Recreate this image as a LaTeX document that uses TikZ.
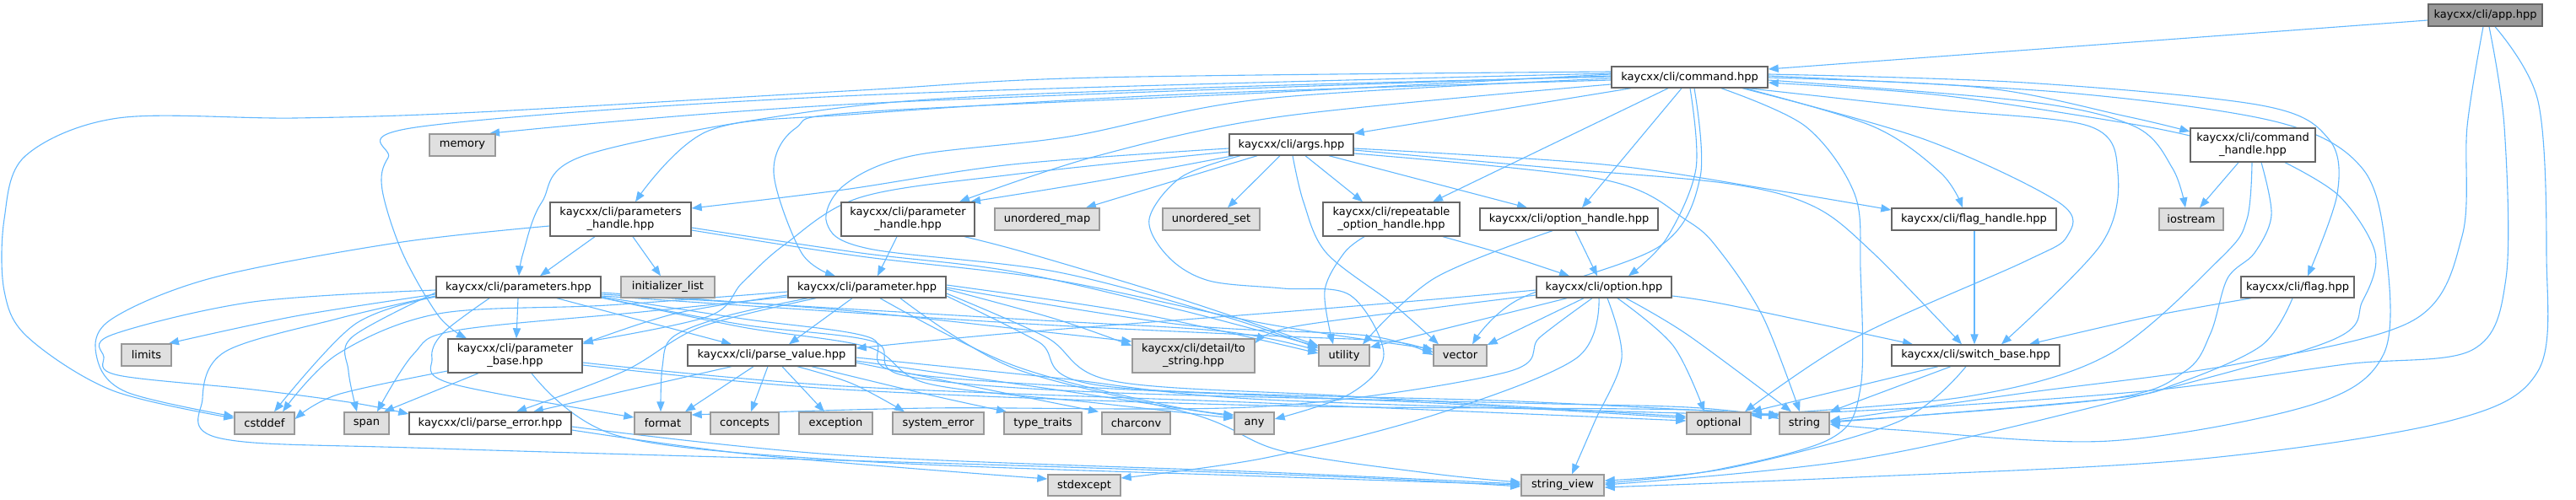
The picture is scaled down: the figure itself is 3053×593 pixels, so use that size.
\documentclass[tikz,border=0pt]{standalone}
\usepackage{fontspec}
\setmainfont{DejaVu Sans}
\usetikzlibrary{arrows.meta}
\definecolor{edgec}{HTML}{63B8FF}
\definecolor{bordA}{HTML}{666666}
\definecolor{bordB}{HTML}{999999}
\definecolor{fillB}{HTML}{E0E0E0}
\definecolor{fillR}{HTML}{999999}
\pgfdeclarelayer{edgelayer}
\pgfsetlayers{edgelayer,main}
\tikzset{
  boxbase/.style={rectangle, inner sep=0pt, align=center, line width=0.7pt, font=\fontsize{6.5pt}{7.5pt}\selectfont},
  hdr/.style={boxbase, draw=bordA, fill=white},
  ext/.style={boxbase, draw=bordB, fill=fillB},
  root/.style={boxbase, draw=bordA, fill=fillR},
  edge/.style={draw=edgec, line width=0.55pt, -{Triangle[length=6pt,width=4.6pt]}}
}
\newcommand{\nd}[7]{\node[#1, minimum width={(#5-#3)*0.5pt}, minimum height={(#6-#4)*0.5pt}] (#2) at ({(#3+#5)/2},{(#4+#6)/2}) {#7};}
\newcommand{\ed}[1]{\draw[edge] plot[smooth, tension=0.55] coordinates {#1};}
\begin{document}
\begin{tikzpicture}[x=0.5pt,y=-0.5pt]
\useasboundingbox (0,0) rectangle (3053,593);
% nodes
\nd{root}{app}{2878}{5}{3013}{31}{kaycxx/cli/app.hpp}
\nd{hdr}{cmd}{1910}{79}{2095}{104}{kaycxx/cli/command.hpp}
\nd{hdr}{ch}{2596}{152}{2744}{192}{kaycxx/cli/command\\\_handle.hpp}
\nd{ext}{ios}{2559}{247}{2635}{273}{iostream}
\nd{ext}{mem}{509}{159}{587}{185}{memory}
\nd{hdr}{psh}{652}{240}{819}{280}{kaycxx/cli/parameters\\\_handle.hpp}
\nd{hdr}{args}{1457}{159}{1604}{184}{kaycxx/cli/args.hpp}
\nd{hdr}{pah}{997}{240}{1155}{280}{kaycxx/cli/parameter\\\_handle.hpp}
\nd{ext}{umap}{1179}{247}{1303}{273}{unordered\_map}
\nd{ext}{uset}{1378}{247}{1493}{273}{unordered\_set}
\nd{hdr}{roh}{1568}{240}{1730}{280}{kaycxx/cli/repeatable\\\_option\_handle.hpp}
\nd{hdr}{oh}{1754}{247}{1965}{273}{kaycxx/cli/option\_handle.hpp}
\nd{hdr}{fh}{2242}{247}{2437}{273}{kaycxx/cli/flag\_handle.hpp}
\nd{ext}{lim}{144}{408}{203}{434}{limits}
\nd{ext}{cst}{278}{489}{349}{515}{cstddef}
\nd{ext}{span}{408}{489}{461}{515}{span}
\nd{hdr}{perr}{485}{489}{677}{515}{kaycxx/cli/parse\_error.hpp}
\nd{hdr}{ps}{517}{328}{712}{353}{kaycxx/cli/parameters.hpp}
\nd{ext}{il}{736}{328}{847}{353}{initializer\_list}
\nd{hdr}{pa}{934}{328}{1121}{353}{kaycxx/cli/parameter.hpp}
\nd{hdr}{pb}{531}{402}{690}{442}{kaycxx/cli/parameter\\\_base.hpp}
\nd{hdr}{pv}{815}{409}{1014}{434}{kaycxx/cli/parse\_value.hpp}
\nd{ext}{fmt}{752}{489}{819}{515}{format}
\nd{ext}{con}{842}{489}{923}{515}{concepts}
\nd{ext}{exc}{947}{489}{1034}{515}{exception}
\nd{ext}{syse}{1058}{489}{1166}{515}{system\_error}
\nd{ext}{tt}{1190}{489}{1282}{515}{type\_traits}
\nd{ext}{cc}{1306}{489}{1387}{515}{charconv}
\nd{ext}{any}{1463}{489}{1510}{515}{any}
\nd{ext}{ts}{1342}{402}{1487}{442}{kaycxx/cli/detail/to\\\_string.hpp}
\nd{ext}{sexc}{1242}{563}{1328}{588}{stdexcept}
\nd{ext}{util}{1563}{409}{1623}{434}{utility}
\nd{ext}{vec}{1699}{409}{1762}{434}{vector}
\nd{hdr}{opt}{1821}{328}{1981}{353}{kaycxx/cli/option.hpp}
\nd{ext}{sv}{1803}{563}{1901}{588}{string\_view}
\nd{ext}{optl}{1999}{489}{2075}{515}{optional}
\nd{ext}{str}{2109}{489}{2168}{515}{string}
\nd{hdr}{sw}{2242}{409}{2441}{434}{kaycxx/cli/switch\_base.hpp}
\nd{hdr}{flag}{2656}{328}{2790}{353}{kaycxx/cli/flag.hpp}
\begin{pgfonlayer}{edgelayer}
% app
\ed{(app.west |- 0,24) (cmd.east |- 0,82)}
\ed{(app.south -| 2943,0) (2924,150) (2918,280) (2860,380) (2650,432) (2400,466) (str.east |- 0,499)}
\ed{(app.south -| 2950,0) (2968,150) (2970,330) (2930,415) (2780,432) (2560,462) (2300,482) (optl.east |- 0,493)}
\ed{(app.south -| 2957,0) (3008,120) (3018,300) (3008,440) (2900,500) (2600,545) (2200,566) (sv.east |- 0,578)}
% command
\ed{(cmd.east |- 0,92) (2350,104) (2520,138) (ch.west |- 0,156)}
\ed{(ch.west |- 0,161) (2520,146) (2300,113) (cmd.east |- 0,98)}
\ed{(cmd.east |- 0,95) (2400,120) (2530,150) (2575,200) (ios.north -| 2590,0)}
\ed{(cmd.east |- 0,88) (2400,98) (2680,125) (2760,165) (2770,230) (flag.north -| 2735,0)}
\ed{(cmd.east |- 0,90) (2450,110) (2700,145) (2800,200) (2828,300) (2825,420) (2740,480) (2500,523) (2250,510) (str.east |- 0,503)}
\ed{(cmd.south -| 2040,0) (2140,150) (2198,230) (2205,320) (2205,460) (2170,520) (2030,558) (sv.east |- 0,573)}
\ed{(cmd.south -| 2068,0) (2220,150) (2300,205) (fh.north -| 2326,0)}
\ed{(cmd.south -| 2072,0) (2300,130) (2477,150) (2510,205) (2490,290) (sw.north -| 2372,0)}
\ed{(cmd.south -| 2065,0) (2280,165) (2440,240) (2450,280) (2400,310) (2200,400) (optl.north -| 2068,0)}
\ed{(cmd.south -| 2003,0) (2010,200) (1975,283) (opt.north -| 1930,0)}
\ed{(cmd.south -| 2008,0) (2015,210) (1967,292) (1800,355) (vec.north -| 1745,0)}
\ed{(cmd.south -| 1993,0) (oh.north -| 1875,0)}
\ed{(cmd.south -| 1977,0) (roh.north -| 1698,0)}
\ed{(cmd.south -| 1933,0) (args.north east)}
\ed{(cmd.west |- 0,100) (1520,138) (1300,185) (pah.north -| 1137,0)}
\ed{(cmd.west |- 0,88) (1500,110) (1020,133) (943,152) (917,205) (950,300) (pa.north -| 990,0)}
\ed{(cmd.west |- 0,93) (1500,117) (1267,162) (1080,185) (1000,220) (980,265) (1030,295) (1250,322) (1450,375) (util.west |- 0,413)}
\ed{(cmd.west |- 0,91) (1400,105) (1020,125) (700,182) (642,240) (620,300) (ps.north -| 615,0)}
\ed{(cmd.west |- 0,95) (1400,112) (1020,135) (840,155) (psh.north -| 753,0)}
\ed{(cmd.west |- 0,90) (1020,123) (mem.north -| 580,0)}
\ed{(cmd.west |- 0,85) (1300,92) (1020,107) (567,133) (350,140) (140,140) (30,185) (5,260) (5,345) (33,400) (133,463) (cst.west |- 0,496)}
\ed{(cmd.west |- 0,87) (1020,113) (500,150) (460,187) (453,225) (477,300) (520,375) (pb.north -| 553,0)}
% command_handle
\ed{(ch.south -| 2653,0) (ios.north -| 2607,0)}
\ed{(ch.south -| 2669,0) (2663,260) (2633,305) (2500,420) (2333,470) (optl.east |- 0,492)}
\ed{(ch.south -| 2680,0) (2692,255) (2672,300) (2640,330) (2620,395) (2590,440) (2500,473) (str.east |- 0,500)}
\ed{(ch.south -| 2708,0) (2773,233) (2815,300) (2800,357) (2760,405) (2500,478) (2200,545) (sv.east |- 0,575)}
% args
\ed{(args.west |- 0,176) (1200,195) (1000,225) (psh.east |- 0,247)}
\ed{(args.west |- 0,180) (1200,207) (1020,234) (930,290) (880,335) (840,375) (pb.east |- 0,406)}
\ed{(args.south -| 1462,0) (1300,215) (pah.north -| 1150,0)}
\ed{(args.south -| 1490,0) (umap.north -| 1287,0)}
\ed{(args.south -| 1517,0) (uset.north -| 1455,0)}
\ed{(args.south -| 1470,0) (1400,210) (1362,260) (1385,305) (1433,333) (1520,342) (1600,350) (1640,420) (1600,467) (any.east |- 0,497)}
\ed{(args.south -| 1532,0) (1545,240) (1572,300) (1650,360) (vec.north -| 1705,0)}
\ed{(args.south -| 1547,0) (roh.north -| 1615,0)}
\ed{(args.south -| 1575,0) (oh.north -| 1810,0)}
\ed{(args.east |- 0,176) (1900,195) (2100,225) (fh.west |- 0,249)}
\ed{(args.east |- 0,178) (1850,200) (2050,218) (2150,245) (2220,300) (sw.north -| 2325,0)}
\ed{(args.east |- 0,182) (1900,213) (2000,262) (2040,300) (2090,377) (str.north -| 2133,0)}
% parameters_handle
\ed{(psh.south -| 705,0) (ps.north -| 640,0)}
\ed{(psh.south -| 750,0) (il.north -| 783,0)}
\ed{(psh.west |- 0,268) (470,288) (250,330) (130,380) (115,425) (150,465) (cst.west |- 0,494)}
\ed{(psh.east |- 0,270) (1020,300) (1200,322) (1400,368) (util.west |- 0,411)}
\ed{(psh.east |- 0,273) (1020,304) (1250,332) (1500,384) (vec.west |- 0,414)}
% parameter_handle
\ed{(pah.south -| 1063,0) (pa.north -| 1040,0)}
\ed{(pah.south -| 1143,0) (1217,300) (1400,355) (util.west |- 0,410)}
% repeatable / option_handle / flag_handle / flag
\ed{(roh.south -| 1710,0) (1777,300) (opt.north -| 1860,0)}
\ed{(roh.south -| 1617,0) (1593,300) (1570,345) (util.north -| 1580,0)}
\ed{(oh.south -| 1867,0) (opt.north -| 1893,0)}
\ed{(oh.south -| 1840,0) (1700,330) (util.north -| 1615,0)}
\ed{(fh.south -| 2340,0) (sw.north -| 2340,0)}
\ed{(flag.south -| 2668,0) (2550,375) (sw.north -| 2405,0)}
\ed{(flag.south -| 2717,0) (2680,410) (2580,455) (2500,473) (str.east |- 0,501)}
% option
\ed{(opt.west |- 0,344) (1700,355) (1520,370) (1200,395) (pv.east |- 0,413)}
\ed{(opt.west |- 0,350) (1700,365) (1530,388) (ts.east |- 0,407)}
\ed{(opt.south -| 1857,0) (util.east |- 0,412)}
\ed{(opt.south -| 1877,0) (vec.east |- 0,409)}
\ed{(opt.south -| 1887,0) (1825,400) (1783,442) (1500,482) (1100,484) (fmt.east |- 0,492)}
\ed{(opt.south -| 1895,0) (1868,425) (1700,492) (1500,543) (sexc.east |- 0,567)}
\ed{(opt.south -| 1905,0) (1922,425) (1890,500) (sv.north -| 1863,0)}
\ed{(opt.south -| 1917,0) (1983,410) (optl.north -| 2020,0)}
\ed{(opt.south -| 1927,0) (2000,397) (str.north -| 2123,0)}
\ed{(opt.east |- 0,351) (2050,362) (sw.north -| 2267,0)}
% parameters
\ed{(ps.south -| 614,0) (pb.north -| 612,0)}
\ed{(ps.south -| 660,0) (pv.north -| 867,0)}
\ed{(ps.west |- 0,349) (350,375) (lim.north -| 200,0)}
\ed{(ps.west |- 0,352) (420,385) (cst.north -| 325,0)}
\ed{(ps.west |- 0,347) (417,400) (413,440) (span.north -| 423,0)}
\ed{(ps.west |- 0,344) (300,358) (133,397) (123,423) (140,445) (300,462) (420,478) (perr.west |- 0,491)}
\ed{(ps.west |- 0,351) (400,378) (267,417) (240,473) (262,520) (520,532) (1200,552) (1600,566) (sv.west |- 0,577)}
\ed{(ps.south -| 580,0) (525,395) (512,425) (535,455) (fmt.west |- 0,495)}
\ed{(ps.east |- 0,347) (1000,368) (1250,395) (ts.west |- 0,405)}
\ed{(ps.east |- 0,349) (1200,378) (1450,393) (util.west |- 0,416)}
\ed{(ps.east |- 0,351) (1200,383) (1500,398) (1650,405) (vec.west |- 0,418)}
\ed{(ps.east |- 0,352) (880,378) (1030,400) (1060,440) (1300,460) (1700,478) (optl.west |- 0,496)}
\ed{(ps.east |- 0,353) (880,385) (1035,405) (1070,445) (1300,465) (1800,478) (2000,483) (str.west |- 0,494)}
\ed{(ps.east |- 0,353) (880,388) (1030,412) (1100,455) (1300,478) (any.west |- 0,496)}
% parameter
\ed{(pa.west |- 0,350) (800,372) (pb.east |- 0,408)}
\ed{(pa.south -| 1010,0) (pv.north -| 935,0)}
\ed{(pa.south -| 957,0) (860,375) (797,400) (785,435) (fmt.north -| 783,0)}
\ed{(pa.south -| 967,0) (830,388) (740,440) (perr.north -| 612,0)}
\ed{(pa.west |- 0,352) (760,370) (540,392) (490,420) (span.north -| 447,0)}
\ed{(pa.west |- 0,346) (720,362) (520,372) (400,420) (cst.north -| 335,0)}
\ed{(pa.east |- 0,343) (1250,378) (ts.west |- 0,410)}
\ed{(pa.east |- 0,338) (1350,372) (util.west |- 0,419)}
\ed{(pa.east |- 0,341) (1400,385) (1620,398) (vec.west |- 0,421)}
\ed{(pa.south -| 1043,0) (1200,433) (1380,480) (any.west |- 0,492)}
\ed{(pa.east |- 0,348) (1240,400) (1320,452) (1600,470) (optl.west |- 0,494)}
\ed{(pa.east |- 0,351) (1230,405) (1310,458) (1800,476) (str.west |- 0,492)}
\ed{(pa.south -| 1067,0) (1200,436) (1420,493) (1520,535) (1700,562) (sv.west |- 0,572)}
% parameter_base
\ed{(pb.west |- 0,440) (400,468) (cst.east |- 0,497)}
\ed{(pb.south -| 567,0) (span.north -| 455,0)}
\ed{(pb.south -| 630,0) (733,517) (1020,547) (1500,565) (sv.west |- 0,575)}
\ed{(pb.east |- 0,430) (1000,458) (1500,478) (optl.west |- 0,499)}
\ed{(pb.east |- 0,433) (1000,462) (1500,481) (2000,486) (str.west |- 0,497)}
% parse_value
\ed{(pv.south -| 867,0) (perr.north -| 632,0)}
\ed{(pv.south -| 893,0) (fmt.north -| 812,0)}
\ed{(pv.south -| 910,0) (con.north -| 890,0)}
\ed{(pv.south -| 927,0) (exc.north -| 977,0)}
\ed{(pv.south -| 945,0) (1010,455) (syse.north -| 1072,0)}
\ed{(pv.south -| 962,0) (1100,468) (tt.north -| 1193,0)}
\ed{(pv.east |- 0,430) (1200,468) (cc.north -| 1302,0)}
\ed{(pv.east |- 0,428) (1250,462) (any.west |- 0,494)}
\ed{(pv.east |- 0,424) (1250,448) (1500,474) (str.west |- 0,493)}
% parse_error
\ed{(perr.east |- 0,510) (900,540) (sexc.west |- 0,568)}
\ed{(perr.east |- 0,506) (1000,540) (1500,560) (sv.west |- 0,574)}
% switch_base
\ed{(sw.south -| 2297,0) (optl.north east)}
\ed{(sw.south -| 2312,0) (str.north east)}
\ed{(sw.south -| 2330,0) (2250,500) (2050,555) (sv.east |- 0,570)}
\end{pgfonlayer}
\end{tikzpicture}
\end{document}
